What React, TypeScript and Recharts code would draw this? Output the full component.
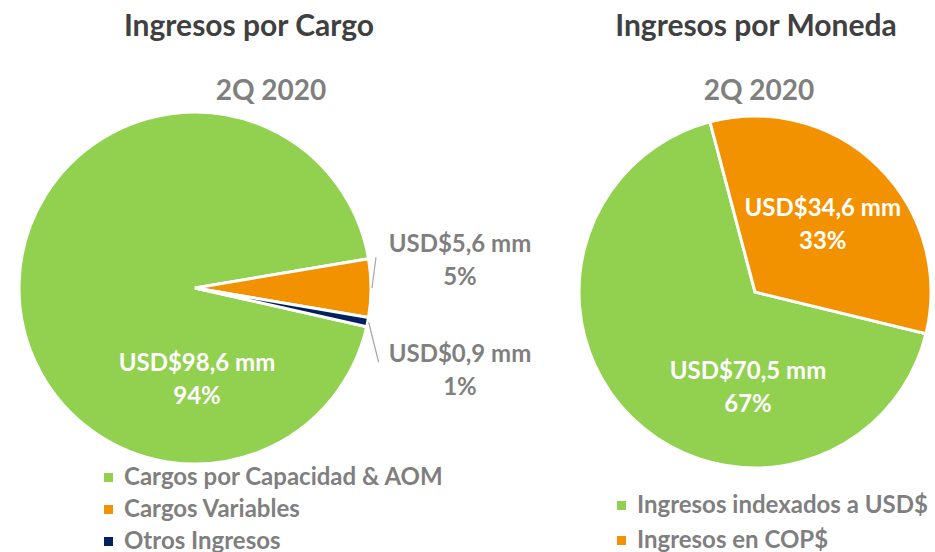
import { PieChart, Pie, Cell } from 'recharts'

const cargoNames = ['Cargos por Capacidad & AOM', 'Cargos Variables', 'Otros Ingresos']
const cargoValues = [98.6, 5.6, 0.9]
const cargoColors = ['#92D050', '#F39200', '#002060']

const monedaNames = ['Ingresos indexados a USD$', 'Ingresos en COP$']
const monedaValues = [70.5, 34.6]
const monedaColors = ['#92D050', '#F39200']

const period = '2Q 2020'

const FONT = 'Lato, "Open Sans", sans-serif'
const GRAY = '#7f7f7f'
const RAD = Math.PI / 180

const cargoData = cargoNames.map((name, i) => ({ name, value: cargoValues[i] }))
const monedaData = monedaNames.map((name, i) => ({ name, value: monedaValues[i] }))

function formatUsd(v: number): string {
  return `USD$${v.toFixed(1).replace('.', ',')} mm`
}

function TwoLine({ x, y, top, bottom, fill }: { x: number; y: number; top: string; bottom: string; fill: string }) {
  return (
    <text x={x} y={y} textAnchor="middle" fill={fill} fontFamily={FONT} fontWeight={700} fontSize={24}>
      <tspan x={x} dy={0}>{top}</tspan>
      <tspan x={x} dy={33}>{bottom}</tspan>
    </text>
  )
}

function cargoLabel(props: any) {
  const { cx, cy, outerRadius, midAngle, percent, value, index } = props
  const pct = `${Math.round(percent * 100)}%`
  if (index === 0) {
    return <TwoLine x={cx + 2} y={cy + 83} top={formatUsd(value)} bottom={pct} fill="#ffffff" />
  }
  // small slices: label outside with a short leader line
  const sx = cx + (outerRadius + 1) * Math.cos(-midAngle * RAD)
  const sy = cy + (outerRadius + 1) * Math.sin(-midAngle * RAD)
  const up = index === 1
  const ex = sx + (up ? 4 : 10)
  const ey = up ? sy - 31 : sy + 40
  return (
    <g>
      <line x1={sx} y1={sy} x2={ex} y2={ey} stroke="#a6a6a6" strokeWidth={1.2} />
      <TwoLine x={cx + 265} y={up ? cy - 36 : cy + 74} top={formatUsd(value)} bottom={pct} fill={GRAY} />
    </g>
  )
}

function monedaLabel(props: any) {
  const { cx, cy, outerRadius, midAngle, percent, value, index } = props
  const pct = `${Math.round(percent * 100)}%`
  if (index === 1) {
    const r = outerRadius * 0.55
    const px = cx + r * Math.cos(-midAngle * RAD)
    const py = cy + r * Math.sin(-midAngle * RAD)
    return <TwoLine x={px} y={py - 7} top={formatUsd(value)} bottom={pct} fill="#ffffff" />
  }
  return <TwoLine x={cx - 7} y={cy + 87} top={formatUsd(value)} bottom={pct} fill="#ffffff" />
}

function LegendBlock({ x, y, names, colors, gap }: { x: number; y: number; names: string[]; colors: string[]; gap: number }) {
  return (
    <g>
      {names.map((n, i) => (
        <g key={n}>
          <rect x={x} y={y + i * gap - 4} width={9} height={9} fill={colors[i]} />
          <text x={x + 20} y={y + i * gap + 8} fill={GRAY} fontFamily={FONT} fontWeight={700} fontSize={24}>
            {n}
          </text>
        </g>
      ))}
    </g>
  )
}

export default function App() {
  return (
    <div style={{ position: 'absolute', left: 0, top: 0, width: 935, height: 552, background: '#fff' }}>
      <PieChart width={935} height={552} margin={{ top: 0, right: 0, bottom: 0, left: 0 }}>
        <Pie
          data={cargoData}
          dataKey="value"
          nameKey="name"
          cx={195}
          cy={288}
          outerRadius={176}
          startAngle={-12.7}
          endAngle={-372.7}
          stroke="#ffffff"
          strokeWidth={3}
          label={cargoLabel}
          labelLine={false}
          isAnimationActive={false}
        >
          {cargoData.map((d, i) => (
            <Cell key={d.name} fill={cargoColors[i]} />
          ))}
        </Pie>
        <Pie
          data={monedaData}
          dataKey="value"
          nameKey="name"
          cx={755}
          cy={292}
          outerRadius={176}
          startAngle={-13.7}
          endAngle={-373.7}
          stroke="#ffffff"
          strokeWidth={3}
          label={monedaLabel}
          labelLine={false}
          isAnimationActive={false}
        >
          {monedaData.map((d, i) => (
            <Cell key={d.name} fill={monedaColors[i]} />
          ))}
        </Pie>
      </PieChart>
      <svg width={935} height={552} style={{ position: 'absolute', left: 0, top: 0, pointerEvents: 'none' }}>
        <g fontFamily={FONT} fontWeight={700} textAnchor="middle">
          <text x={249} y={36} fontSize={30} fill="#404040">Ingresos por Cargo</text>
          <text x={271} y={100} fontSize={28} fill={GRAY}>{period}</text>
          <text x={756} y={36} fontSize={30} fill="#404040">Ingresos por Moneda</text>
          <text x={759} y={100} fontSize={28} fill={GRAY}>{period}</text>
        </g>
        <LegendBlock x={104} y={477} names={cargoNames} colors={cargoColors} gap={32} />
        <LegendBlock x={617} y={505} names={monedaNames} colors={monedaColors} gap={35} />
      </svg>
    </div>
  )
}
